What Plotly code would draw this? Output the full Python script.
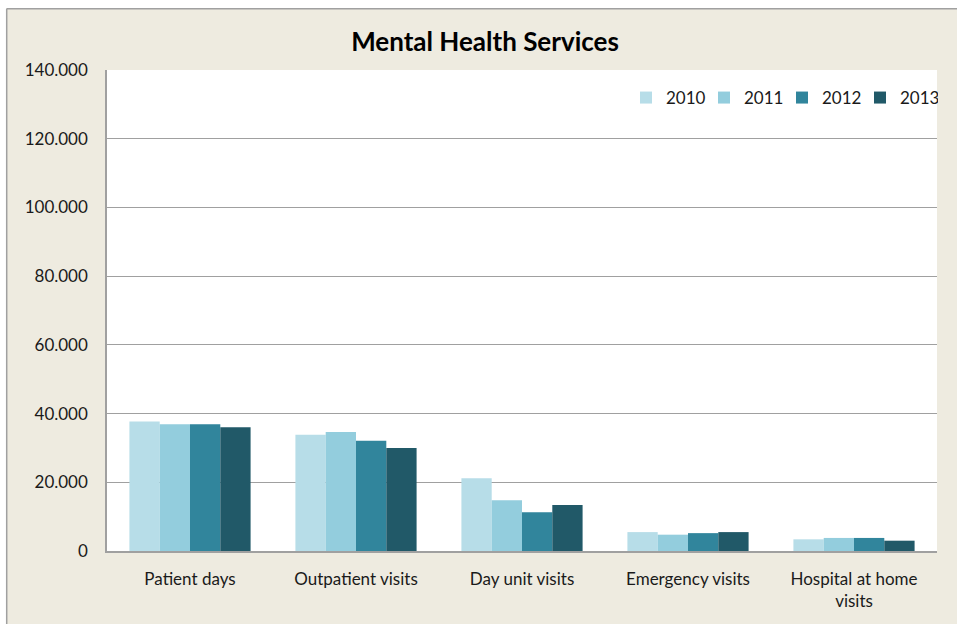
import plotly.graph_objects as go

categories = ["Patient days", "Outpatient visits", "Day unit visits", "Emergency visits", "Hospital at home<br>visits"]
years = ["2010", "2011", "2012", "2013"]
v2010 = [37700, 33800, 21200, 5500, 3400]
v2011 = [36900, 34600, 14800, 4750, 3800]
v2012 = [36900, 32100, 11300, 5200, 3800]
v2013 = [36000, 30000, 13400, 5500, 3000]
colors = ["#B7DDE8", "#93CDDD", "#31859C", "#215968"]
y_ticks = [0, 20000, 40000, 60000, 80000, 100000, 120000, 140000]

FONT = "Lato, 'Open Sans', sans-serif"
W, H = 957, 624
L, R, T, B = 107, 937, 70, 551

fig = go.Figure()
for name, vals, c in zip(years, [v2010, v2011, v2012, v2013], colors):
    fig.add_trace(go.Bar(name=name, x=categories, y=vals, marker=dict(color=c, line=dict(width=0))))

pw, ph = R - L, B - T
def px(x):
    return (x - L) / pw
def py(y):
    return (B - y) / ph

fig.add_shape(type="rect", xref="paper", yref="paper", x0=px(6), x1=px(957), y0=py(8), y1=py(624),
              fillcolor="#EEEBE0", line=dict(width=0), layer="below")
fig.add_shape(type="line", xref="paper", yref="paper", x0=px(6.7), x1=px(957), y0=py(8.7), y1=py(8.7),
              line=dict(color="#A0A0A0", width=1.5), layer="below")
fig.add_shape(type="line", xref="paper", yref="paper", x0=px(6.7), x1=px(6.7), y0=py(8.7), y1=py(624),
              line=dict(color="#A0A0A0", width=1.5), layer="below")
fig.add_shape(type="rect", xref="paper", yref="paper", x0=0, x1=1, y0=0, y1=1,
              fillcolor="white", line=dict(width=0), layer="below")

fig.update_layout(
    width=W, height=H,
    margin=dict(l=L, r=W - R, t=T, b=H - B),
    paper_bgcolor="white", plot_bgcolor="white",
    separators=",.",
    barmode="group", bargap=0.27, bargroupgap=0,
    font=dict(family=FONT, size=17, color="#1a1a1a"),
    title=dict(text="<b>Mental Health Services</b>", x=485 / W, xanchor="center",
               y=1 - 42 / H, yanchor="middle", font=dict(size=26, color="#000")),
    legend=dict(orientation="h", x=px(626), xanchor="left", y=py(98), yanchor="middle",
                bgcolor="rgba(0,0,0,0)", font=dict(size=17), itemwidth=30, traceorder="normal",
                entrywidth=33, entrywidthmode="pixels"),
    showlegend=True,
)
fig.update_yaxes(range=[0, 140000], tickvals=y_ticks, tickformat=",d", showgrid=True,
                 gridcolor="#A0A0A0", gridwidth=1, showline=True, linecolor="#A0A0A0", linewidth=1.5,
                 ticks="", ticklabelstandoff=14, zeroline=False)
fig.update_xaxes(showline=True, linecolor="#A0A0A0", linewidth=1.5, ticks="", ticklabelstandoff=12)

fig.write_html("out.html", config={"displayModeBar": False},
               post_script="document.body.style.margin='0';document.body.style.overflow='hidden';")
